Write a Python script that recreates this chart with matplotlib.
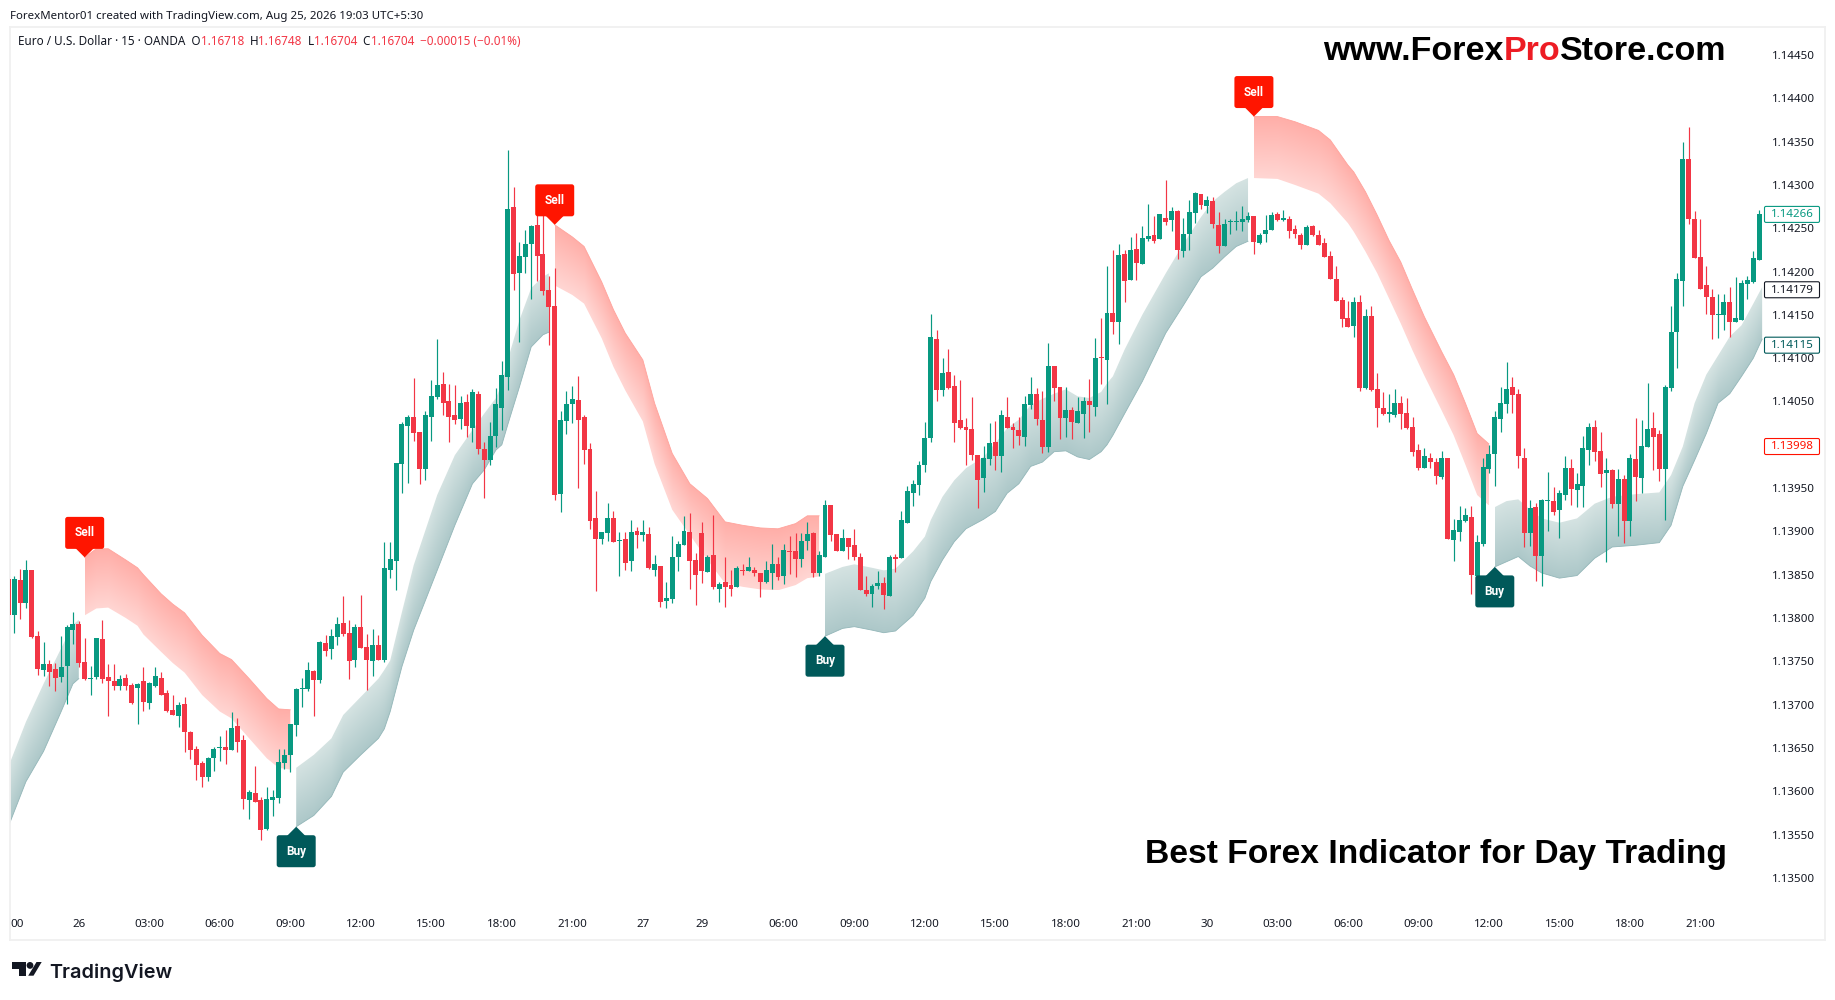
"""EUR/USD 15m chart with buy/sell bands, TradingView style."""
import numpy as np
import matplotlib
matplotlib.use("Agg")
import matplotlib.pyplot as plt
from matplotlib.patches import Polygon, FancyBboxPatch, Circle
from matplotlib.transforms import IdentityTransform

# prices are stored in points above 1.13000
BASE = 1.13
POINT = 1e-5

OPEN = [
    845, 804, 844, 817, 855, 779, 740, 747, 741, 732, 744, 786, 793, 749, 729, 732, 776, 732, 727, 721,
    731, 723, 719, 727, 702, 721, 731, 713, 694, 687, 701, 668, 649, 632, 616, 638, 650, 651, 648, 675,
    659, 590, 598, 590, 556, 590, 592, 633, 642, 676, 718, 718, 739, 728, 771, 764, 778, 794, 783, 751,
    790, 766, 750, 769, 751, 855, 866, 978, 1022, 1032, 1015, 972, 1032, 1055, 1070, 1050, 1034, 1030, 1049, 1019,
    1059, 995, 983, 1010, 1042, 1078, 1275, 1198, 1217, 1232, 1254, 1220, 1179, 1160, 943, 1027, 1047, 1052, 1032, 995,
    915, 891, 898, 916, 889, 891, 866, 900, 896, 897, 855, 860, 820, 822, 870, 884, 899, 867, 898, 853,
    873, 834, 842, 838, 836, 855, 854, 855, 852, 841, 852, 862, 848, 877, 877, 868, 889, 898, 852, 871,
    930, 897, 877, 892, 884, 870, 832, 828, 837, 840, 825, 870, 869, 910, 944, 954, 977, 1008, 1122, 1063,
    1084, 1068, 1029, 1020, 1018, 988, 962, 984, 1003, 987, 1032, 1020, 1017, 1009, 1046, 1059, 1029, 997, 1091, 1067,
    1031, 1040, 1025, 1036, 1051, 1044, 1101, 1098, 1152, 1142, 1220, 1190, 1226, 1209, 1238, 1242, 1238, 1262, 1260, 1270,
    1224, 1243, 1268, 1290, 1276, 1281, 1254, 1229, 1257, 1257, 1257, 1260, 1264, 1233, 1243, 1248, 1266, 1260, 1261, 1249,
    1242, 1231, 1253, 1242, 1233, 1218, 1192, 1167, 1146, 1137, 1165, 1066, 1149, 1064, 1043, 1036, 1034, 1048, 1037, 1020,
    994, 973, 985, 980, 963, 985, 890, 899, 912, 917, 848, 885, 972, 989, 1030, 1047, 1067, 1059, 985, 898,
    928, 872, 935, 935, 925, 942, 973, 948, 952, 994, 1020, 993, 967, 971, 932, 960, 912, 984, 962, 997,
    1019, 1012, 972, 1066, 1130, 1189, 1330, 1261, 1217, 1184, 1171, 1150, 1150, 1165, 1142, 1144, 1186, 1188, 1213,
]
HIGH = [
    873, 849, 857, 867, 855, 785, 772, 751, 748, 779, 792, 807, 796, 777, 745, 777, 798, 747, 747, 734,
    735, 725, 725, 743, 726, 743, 738, 717, 711, 703, 709, 669, 652, 635, 639, 651, 664, 671, 691, 684,
    665, 601, 629, 593, 605, 601, 649, 649, 678, 719, 731, 749, 740, 773, 780, 787, 801, 825, 798, 793,
    827, 781, 787, 780, 888, 888, 979, 1026, 1034, 1077, 1015, 1039, 1075, 1122, 1084, 1070, 1069, 1056, 1059, 1064,
    1062, 1003, 1026, 1066, 1097, 1340, 1298, 1234, 1248, 1254, 1271, 1269, 1195, 1204, 1039, 1062, 1068, 1080, 1034, 1002,
    947, 899, 933, 923, 899, 899, 913, 905, 913, 905, 873, 860, 841, 895, 889, 918, 921, 875, 911, 873,
    919, 841, 870, 855, 860, 862, 870, 859, 852, 866, 886, 871, 885, 895, 898, 898, 911, 899, 877, 936,
    930, 897, 903, 892, 903, 875, 848, 839, 854, 847, 873, 874, 923, 952, 959, 981, 1026, 1151, 1133, 1100,
    1111, 1081, 1075, 1031, 1055, 988, 999, 1025, 1027, 1040, 1055, 1025, 1032, 1056, 1078, 1066, 1062, 1118, 1091, 1067,
    1067, 1044, 1055, 1055, 1076, 1123, 1146, 1206, 1225, 1232, 1225, 1240, 1245, 1253, 1278, 1264, 1266, 1306, 1275, 1271,
    1262, 1283, 1292, 1290, 1287, 1286, 1269, 1261, 1261, 1270, 1276, 1269, 1264, 1245, 1265, 1269, 1269, 1271, 1264, 1254,
    1245, 1254, 1254, 1248, 1239, 1224, 1206, 1171, 1166, 1171, 1173, 1157, 1160, 1083, 1061, 1059, 1064, 1056, 1054, 1032,
    1001, 996, 990, 985, 993, 985, 914, 929, 927, 929, 896, 985, 1000, 1039, 1067, 1096, 1078, 1064, 996, 936,
    933, 937, 969, 951, 948, 987, 984, 967, 1010, 1025, 1029, 1015, 985, 972, 972, 965, 989, 1031, 1029, 1071,
    1038, 1017, 1069, 1160, 1198, 1350, 1367, 1270, 1261, 1206, 1180, 1174, 1174, 1182, 1194, 1190, 1195, 1224, 1271,
]
LOW = [
    804, 783, 799, 811, 777, 734, 733, 722, 716, 726, 701, 770, 743, 728, 711, 730, 725, 687, 717, 717,
    717, 701, 678, 693, 695, 720, 711, 691, 688, 674, 645, 637, 613, 605, 612, 623, 635, 631, 648, 645,
    579, 568, 587, 544, 555, 571, 586, 626, 622, 664, 697, 716, 687, 725, 756, 753, 769, 779, 730, 743,
    765, 717, 733, 751, 749, 846, 832, 944, 956, 1004, 955, 959, 1004, 1053, 1034, 1003, 1024, 1018, 1009, 1003,
    989, 938, 977, 998, 1017, 1063, 1179, 1119, 1198, 1168, 1189, 1173, 1115, 936, 922, 1012, 1025, 950, 978, 903,
    831, 886, 889, 888, 848, 855, 854, 881, 889, 856, 848, 813, 811, 817, 854, 884, 833, 815, 840, 853,
    834, 818, 813, 825, 836, 850, 854, 848, 824, 840, 833, 844, 839, 851, 847, 859, 878, 847, 848, 871,
    889, 877, 877, 868, 867, 832, 825, 813, 833, 810, 825, 853, 869, 910, 929, 942, 969, 1003, 1051, 1056,
    1064, 1003, 1018, 977, 982, 927, 945, 977, 971, 969, 1019, 996, 1000, 999, 1041, 1023, 990, 992, 1051, 1007,
    1009, 1007, 1025, 1008, 1015, 1033, 1070, 1047, 1128, 1116, 1165, 1190, 1190, 1209, 1235, 1233, 1238, 1254, 1247, 1214,
    1217, 1225, 1256, 1272, 1268, 1250, 1221, 1229, 1243, 1248, 1247, 1257, 1220, 1232, 1234, 1248, 1258, 1258, 1239, 1239,
    1226, 1231, 1241, 1231, 1217, 1191, 1166, 1136, 1136, 1124, 1062, 1064, 1062, 1021, 1034, 1026, 1032, 1018, 1018, 987,
    971, 973, 973, 955, 960, 891, 866, 889, 911, 828, 837, 883, 967, 952, 1015, 1037, 1037, 973, 882, 883,
    843, 837, 900, 919, 892, 936, 930, 928, 928, 977, 981, 951, 865, 927, 895, 887, 895, 935, 944, 997,
    971, 958, 913, 1062, 1089, 1160, 1255, 1216, 1180, 1151, 1122, 1123, 1132, 1124, 1142, 1144, 1168, 1187, 1213,
]
CLOSE = [
    804, 845, 817, 855, 778, 741, 747, 738, 731, 743, 790, 793, 748, 730, 730, 777, 730, 727, 721, 730,
    721, 702, 724, 703, 725, 733, 711, 693, 688, 700, 668, 648, 630, 616, 638, 649, 651, 648, 673, 657,
    591, 599, 587, 555, 591, 593, 634, 642, 678, 718, 719, 740, 728, 772, 762, 779, 793, 781, 750, 790,
    765, 751, 769, 751, 858, 868, 979, 1024, 1032, 1014, 972, 1034, 1056, 1069, 1048, 1032, 1029, 1048, 1022, 1061,
    995, 982, 1010, 1047, 1081, 1272, 1197, 1218, 1232, 1253, 1218, 1178, 1159, 942, 1029, 1047, 1053, 1029, 994, 912,
    891, 899, 916, 888, 890, 863, 899, 896, 899, 858, 862, 818, 823, 870, 885, 900, 866, 850, 854, 871,
    836, 839, 836, 833, 858, 854, 859, 852, 841, 855, 862, 847, 878, 876, 868, 889, 897, 852, 873, 930,
    896, 877, 892, 882, 870, 832, 828, 837, 840, 826, 870, 868, 913, 947, 955, 977, 1008, 1125, 1063, 1083,
    1066, 1025, 1019, 1017, 988, 959, 985, 1002, 987, 1034, 1019, 1017, 1010, 1047, 1059, 1030, 997, 1091, 1066, 1031,
    1040, 1026, 1039, 1051, 1046, 1100, 1100, 1152, 1142, 1219, 1189, 1225, 1210, 1239, 1241, 1235, 1266, 1257, 1270, 1225,
    1243, 1269, 1291, 1277, 1283, 1255, 1229, 1255, 1258, 1258, 1261, 1264, 1234, 1242, 1248, 1265, 1260, 1261, 1247, 1243,
    1231, 1251, 1242, 1231, 1217, 1191, 1166, 1145, 1136, 1165, 1066, 1149, 1063, 1043, 1036, 1037, 1048, 1036, 1019, 992,
    973, 987, 980, 964, 985, 891, 902, 913, 919, 850, 888, 974, 989, 1032, 1048, 1064, 1057, 987, 898, 927,
    872, 936, 936, 922, 944, 973, 949, 955, 996, 1020, 992, 966, 971, 932, 960, 912, 985, 963, 999, 1018,
    1009, 972, 1067, 1130, 1191, 1330, 1261, 1216, 1180, 1171, 1150, 1151, 1165, 1142, 1146, 1187, 1190, 1216, 1266,
]

# band outlines, read every few bars
GREEN1_X = [0, 3, 6, 9, 11, 12]
GREEN1_TOP = [628, 680, 724, 765, 792, 798]
GREEN1_BOT = [559, 611, 646, 692, 724, 730]

SELL1_X = [13, 15, 17, 20, 22, 23, 26, 28, 30, 33, 36, 38, 41, 44, 46, 48]
SELL1_TOP = [870, 880, 880, 867, 858, 850, 828, 816, 806, 780, 759, 752, 730, 707, 695, 694]
SELL1_BOT = [803, 811, 812, 800, 791, 781, 761, 748, 737, 711, 692, 684, 661, 638, 627, 625]

GREEN2_X = [49, 52, 55, 57, 60, 63, 64, 65, 67, 69, 73, 76, 79, 81, 83, 84, 85, 87, 89, 91, 92]
GREEN2_TOP = [627, 642, 661, 688, 709, 730, 740, 751, 807, 861, 942, 988, 1017, 1036, 1054, 1070, 1098, 1144, 1181, 1194, 1198]
GREEN2_BOT = [559, 572, 594, 622, 642, 661, 672, 692, 744, 786, 855, 907, 955, 971, 994, 1000, 1023, 1067, 1113, 1127, 1130]

SELL2_X = [93, 96, 98, 101, 103, 105, 108, 110, 113, 116, 119, 122, 125, 128, 131, 134, 136, 138]
SELL2_TOP = [1254, 1240, 1229, 1188, 1156, 1129, 1098, 1048, 990, 955, 938, 911, 907, 904, 903, 909, 918, 918]
SELL2_BOT = [1184, 1173, 1163, 1123, 1090, 1063, 1027, 978, 925, 896, 867, 840, 836, 833, 832, 838, 846, 848]

GREEN3_X = [139, 142, 144, 147, 149, 151, 154, 156, 157, 159, 161, 163, 166, 168, 170, 172, 174, 176, 178, 180,
            182, 184, 186, 187, 188, 190, 193, 197, 200, 203, 205, 207, 209, 211]
GREEN3_TOP = [851, 859, 862, 858, 855, 857, 877, 894, 913, 940, 959, 973, 986, 1002, 1019, 1029, 1046, 1053, 1059, 1064,
              1056, 1054, 1061, 1071, 1079, 1110, 1150, 1198, 1232, 1263, 1281, 1292, 1302, 1308]
GREEN3_BOT = [779, 788, 790, 786, 783, 785, 803, 823, 842, 867, 888, 903, 914, 923, 944, 955, 975, 980, 992, 993,
              986, 983, 992, 1000, 1011, 1036, 1073, 1129, 1161, 1194, 1204, 1217, 1229, 1235]

SELL3_X = [212, 216, 219, 223, 225, 228, 229, 231, 233, 235, 237, 239, 241, 244, 246, 248, 250, 252]
SELL3_TOP = [1379, 1379, 1373, 1363, 1352, 1323, 1315, 1292, 1265, 1236, 1211, 1179, 1148, 1107, 1081, 1048, 1013, 1001]
SELL3_BOT = [1308, 1307, 1300, 1290, 1279, 1256, 1246, 1223, 1198, 1169, 1140, 1109, 1080, 1039, 1011, 977, 942, 930]

GREEN4_X = [253, 255, 257, 259, 261, 264, 267, 270, 273, 277, 281, 283, 285, 287, 289, 291, 293, 295, 297, 298.5]
GREEN4_TOP = [928, 935, 937, 925, 915, 910, 915, 932, 940, 943, 945, 965, 998, 1048, 1081, 1103, 1125, 1138, 1163, 1182]
GREEN4_BOT = [859, 865, 871, 860, 852, 846, 849, 869, 882, 884, 887, 907, 952, 982, 1013, 1048, 1059, 1079, 1100, 1122]

# marker tips: bar, price in points
SELL_BARS = [13, 93, 212]
SELL_TIPS = [870, 1254, 1379]
BUY_BARS = [49, 139, 253]
BUY_TIPS = [559, 779, 859]

PRICE_TICKS = [500 + 50 * k for k in range(20)]

TIME_POS = [1.5, 12, 24, 36, 48, 60, 72, 84, 96, 108, 118, 132, 144, 156, 168, 180, 192, 204, 216, 228, 240, 252, 264, 276, 288]
TIME_LABELS = ["00", "26", "03:00", "06:00", "09:00", "12:00", "15:00", "18:00", "21:00", "27", "29", "06:00", "09:00",
               "12:00", "15:00", "18:00", "21:00", "30", "03:00", "06:00", "09:00", "12:00", "15:00", "18:00", "21:00"]

LAST_LABELS = [("1.14266", 1266, "#089981"), ("1.14179", 1179, "#131722"),
               ("1.14115", 1115, "#005a5a"), ("1.13998", 998, "#ff1100")]

UP = "#089981"
DOWN = "#f23645"
INK = "#131722"
FRAME = "#f0f0f0"
SANS = "Noto Sans"
W, H = 1835, 1000
T = IdentityTransform()


def pr(points):
    return BASE + np.asarray(points, dtype=float) * POINT


def draw_band(ax, xs, top, bot, col_top, col_bot, edge, edge_on_top):
    xs = np.asarray(xs, dtype=float)
    top, bot = pr(top), pr(bot)
    verts = list(zip(xs, top)) + list(zip(xs[::-1], bot[::-1]))
    ymin, ymax = bot.min(), top.max()
    cols = np.linspace(xs[0], xs[-1], int((xs[-1] - xs[0]) * 8) + 2)
    rows = np.linspace(ymin, ymax, 500)
    t_col = np.interp(cols, xs, top)
    b_col = np.interp(cols, xs, bot)
    frac = (rows[:, None] - b_col[None, :]) / (t_col - b_col)[None, :]
    frac = np.clip(frac, 0, 1)[..., None]
    c0 = np.array(matplotlib.colors.to_rgb(col_bot))
    c1 = np.array(matplotlib.colors.to_rgb(col_top))
    img = c0 * (1 - frac) + c1 * frac
    im = ax.imshow(img, extent=(xs[0], xs[-1], ymin, ymax), origin="lower",
                   aspect="auto", interpolation="bilinear", zorder=1)
    im.set_clip_path(Polygon(verts, closed=True, transform=ax.transData))
    ax.plot(xs, top if edge_on_top else bot, color=edge, lw=0.6, zorder=1.2)


def marker(fig, ax, bar, price, label, color, is_sell):
    x, y = ax.transData.transform((bar, float(pr(price))))
    box_w, box_h, gap, half = 39, 32, 8.5, 9.5
    if is_sell:
        y0 = y + gap
        tri = [(x - half, y0 + 1), (x, y), (x + half, y0 + 1)]
    else:
        y0 = y - gap - box_h
        tri = [(x - half, y0 + box_h - 1), (x, y), (x + half, y0 + box_h - 1)]
    fig.add_artist(FancyBboxPatch((x - box_w / 2 + 2, y0 + 2), box_w - 4, box_h - 4,
                                  boxstyle="round,pad=2,rounding_size=2.5",
                                  fc=color, ec="none", transform=T, zorder=5))
    fig.add_artist(Polygon(tri, closed=True, fc=color, ec="none", transform=T, zorder=5))
    fig.text(x, y0 + box_h / 2, label, color="white", fontsize=8.6, fontweight="bold",
             family="Roboto", ha="center", va="center", transform=T, zorder=6)


def text_runs(fig, x, y, runs, size, family, weight="normal", gap=0.0):
    """Lay text pieces side by side on one baseline, x and y in image pixels."""
    rend = fig.canvas.get_renderer()
    for s, color in runs:
        t = fig.text(x, H - y, s, color=color, fontsize=size, family=family, fontweight=weight,
                     ha="left", va="baseline", transform=T, zorder=7)
        x = t.get_window_extent(rend).x1 + gap


fig = plt.figure(figsize=(W / 100, H / 100), dpi=100, facecolor="white")
ax = fig.add_axes([10 / W, 1 - 940 / H, 1815 / W, 913 / H])

draw_band_args = [
    (GREEN1_X, GREEN1_TOP, GREEN1_BOT, False),
    (GREEN2_X, GREEN2_TOP, GREEN2_BOT, False),
    (GREEN3_X, GREEN3_TOP, GREEN3_BOT, False),
    (GREEN4_X, GREEN4_TOP, GREEN4_BOT, False),
    (SELL1_X, SELL1_TOP, SELL1_BOT, True),
    (SELL2_X, SELL2_TOP, SELL2_BOT, True),
    (SELL3_X, SELL3_TOP, SELL3_BOT, True),
]
for xs, top, bot, is_sell in draw_band_args:
    if is_sell:
        draw_band(ax, xs, top, bot, "#ffaea8", "#ffd6d3", "#ffa39c", True)
    else:
        draw_band(ax, xs, top, bot, "#d5e3e2", "#adc8c9", "#93b6b8", False)

o, h, l, c = map(np.asarray, (OPEN, HIGH, LOW, CLOSE))
bars = np.arange(len(o))
colors = np.where(c >= o, UP, DOWN)
ax.vlines(bars, pr(l), pr(h), colors=colors, lw=0.85, zorder=3)
heights = np.maximum(np.abs(c - o), 1.5) * POINT
ax.bar(bars, heights, bottom=pr(np.minimum(o, c)), width=0.84, color=colors, linewidth=0, zorder=4)

ax.set_xlim(0.29, 309.2)
ax.set_ylim(pr(428.2), pr(1482.4))

ax.yaxis.tick_right()
ax.set_yticks(pr(PRICE_TICKS))
ax.set_yticklabels([f"{v:.5f}" for v in pr(PRICE_TICKS)])
ax.set_xticks(TIME_POS)
ax.set_xticklabels(TIME_LABELS)
ax.tick_params(axis="y", length=0, pad=-38.5, labelsize=8.3, labelcolor=INK)
ax.tick_params(axis="x", length=0, pad=-15, labelsize=8.3, labelcolor=INK)
for lab in ax.get_xticklabels() + ax.get_yticklabels():
    lab.set_family(SANS)
ax.get_xticklabels()[TIME_LABELS.index("29")].set_fontweight("bold")
for s in ax.spines.values():
    s.set_color(FRAME)
    s.set_linewidth(1.3)

fig.canvas.draw()

for bar, tip in zip(SELL_BARS, SELL_TIPS):
    marker(fig, ax, bar, tip, "Sell", "#ff1500", True)
for bar, tip in zip(BUY_BARS, BUY_TIPS):
    marker(fig, ax, bar, tip, "Buy", "#00595a", False)

# boxed values on the price scale
for label, pts, col in LAST_LABELS:
    _, y = ax.transData.transform((0, float(pr(pts))))
    fig.add_artist(FancyBboxPatch((1766, y - 6.5), 52, 13, boxstyle="round,pad=1.5,rounding_size=1.5",
                                  fc="white", ec=col, lw=0.8, transform=T, zorder=8))
    fig.text(1792, y - 0.3, label, color=col, fontsize=8.3, family=SANS, ha="center", va="center",
             transform=T, zorder=9)

# header lines
text_runs(fig, 10, 19, [("ForexMentor01 created with TradingView.com, Aug 25, 2026 19:03 UTC+5:30", INK)], 8.25, SANS)
text_runs(fig, 18, 45, [("Euro / U.S. Dollar · 15 · OANDA  O", INK), ("1.16718", DOWN), ("  H", INK), ("1.16748", DOWN),
                        ("  L", INK), ("1.16704", DOWN), ("  C", INK), ("1.16704", DOWN),
                        ("  −0.00015 (−0.01%)", DOWN)], 8.45, SANS)

# watermark text
text_runs(fig, 1323, 60, [("www.Forex", "black"), ("Pro", "#ed1c24"), ("Store.com", "black")],
          24.5, "Liberation Sans", "bold")
text_runs(fig, 1145, 863.5, [("Best Forex Indicator for Day Trading", "black")],
          24.2, "Liberation Sans", "bold")

# TradingView logo
logo = "#131722"
fig.add_artist(Polygon([(12.3, H - 962), (26, H - 962), (26, H - 975.7), (19.3, H - 975.7), (19.3, H - 969), (12.3, H - 969)],
                       closed=True, fc=logo, ec="none", transform=T))
fig.add_artist(Circle((30, H - 965.4), 3.4, fc=logo, ec="none", transform=T))
fig.add_artist(Polygon([(36.5, H - 962), (41.7, H - 962), (33.5, H - 975.7), (28.2, H - 975.7)],
                       closed=True, fc=logo, ec="none", transform=T))
text_runs(fig, 49.5, 977.5, [("TradingView", logo)], 14.3, "Inter", "semibold")

fig.savefig("out.png", dpi=100, facecolor="white")
